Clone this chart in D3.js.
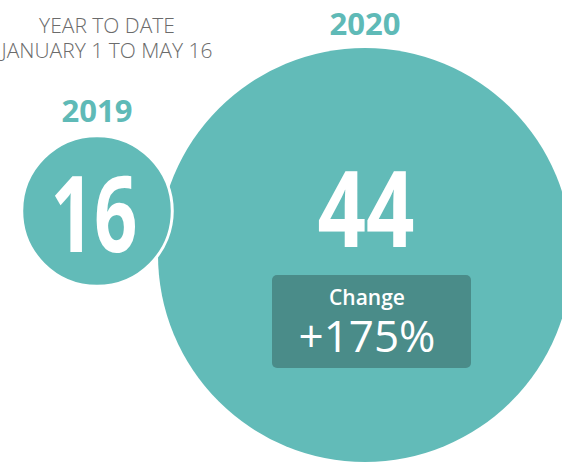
<!DOCTYPE html>
<html>
<head>
<meta charset="utf-8">
<script src="https://cdn.jsdelivr.net/npm/d3@7"></script>
<style>
  html, body { margin: 0; padding: 0; background: #ffffff; }
  svg { display: block; }
</style>
</head>
<body>
<div id="chart"></div>
<script>
// Year-to-date counts, one bubble per year
const years = ["2019", "2020"];
const counts = [16, 44];
const periodLines = ["YEAR TO DATE", "JANUARY 1 TO MAY 16"];
const changeLabel = "Change";

const width = 562, height = 462;
const teal = "#62bbb8", tealDark = "#4a8c89", tealText = "#5fbab7", grey = "#6b6b6b";

const svg = d3.select("#chart").append("svg")
  .attr("width", width).attr("height", height);

// Radius proportional to count
const r = d3.scaleLinear().domain([0, d3.max(counts)]).range([0, 207]);

// Bubble layout: centre of each bubble and value label width
const layout = [
  { cx: 97,  cy: 211, labelY: 122, valueX: 94,  valueY: 252, valueW: 87 },
  { cx: 365, cy: 255, labelY: 35,  valueX: 366, valueY: 247, valueW: 97 }
];

const data = years.map((y, i) => ({ year: y, count: counts[i], ...layout[i] }));

// Draw the larger bubble first so the smaller one sits on top
const order = data.slice().sort((a, b) => b.count - a.count);

svg.selectAll("circle.bubble")
  .data(order)
  .join("circle")
  .attr("class", "bubble")
  .attr("cx", d => d.cx)
  .attr("cy", d => d.cy)
  .attr("r", d => r(d.count))
  .attr("fill", teal)
  .attr("stroke", "#ffffff")
  .attr("stroke-width", d => d.count === d3.min(counts) ? 3 : 0);

// Year labels above bubbles
svg.selectAll("text.year")
  .data(data)
  .join("text")
  .attr("class", "year")
  .attr("x", d => d.cx)
  .attr("y", d => d.labelY)
  .attr("text-anchor", "middle")
  .attr("font-family", "'Open Sans', sans-serif")
  .attr("font-weight", 700)
  .attr("font-size", 31)
  .attr("fill", tealText)
  .text(d => d.year);

// Big count numbers inside the bubbles (condensed bold)
svg.selectAll("text.value")
  .data(data)
  .join("text")
  .attr("class", "value")
  .attr("x", d => d.valueX)
  .attr("y", d => d.valueY)
  .attr("text-anchor", "middle")
  .attr("font-family", "'Open Sans', sans-serif")
  .attr("font-weight", 700)
  .attr("font-size", 106)
  .attr("fill", "#ffffff")
  .attr("textLength", d => d.valueW)
  .attr("lengthAdjust", "spacingAndGlyphs")
  .text(d => d.count);

// Period caption, top left
svg.append("text")
  .attr("x", 107)
  .attr("y", 33)
  .attr("text-anchor", "middle")
  .attr("font-family", "'Open Sans', sans-serif")
  .attr("font-weight", 300)
  .attr("font-size", 21)
  .attr("fill", grey)
  .selectAll("tspan")
  .data(periodLines)
  .join("tspan")
  .attr("x", 107)
  .attr("dy", (d, i) => i === 0 ? 0 : 25)
  .text(d => d);

// Percentage change box inside the larger bubble
const pct = (counts[1] - counts[0]) / counts[0];
const box = svg.append("g");
box.append("rect")
  .attr("x", 272).attr("y", 275)
  .attr("width", 199).attr("height", 93)
  .attr("rx", 5).attr("ry", 5)
  .attr("fill", tealDark);
box.append("text")
  .attr("x", 367).attr("y", 305)
  .attr("text-anchor", "middle")
  .attr("font-family", "'Open Sans', sans-serif")
  .attr("font-weight", 600)
  .attr("font-size", 21)
  .attr("fill", "#ffffff")
  .text(changeLabel);
box.append("text")
  .attr("x", 367).attr("y", 352)
  .attr("text-anchor", "middle")
  .attr("font-family", "'Open Sans', sans-serif")
  .attr("font-weight", 500)
  .attr("font-size", 44)
  .attr("fill", "#ffffff")
  .text(d3.format("+.0%")(pct));
</script>
</body>
</html>
